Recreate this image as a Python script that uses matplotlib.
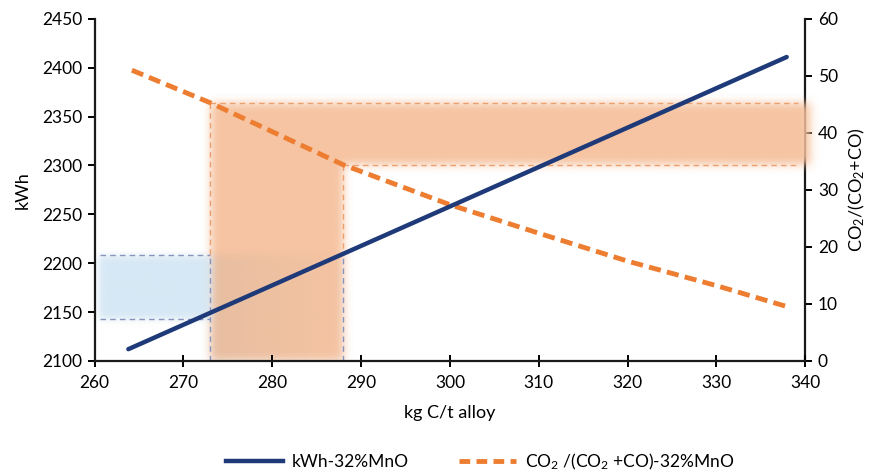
import numpy as np
import matplotlib
matplotlib.use("Agg")
import matplotlib.pyplot as plt
from matplotlib.lines import Line2D

plt.rcParams['font.family'] = ['Lato', 'DejaVu Sans']
plt.rcParams['mathtext.fontset'] = 'custom'
plt.rcParams['mathtext.rm'] = 'Lato'
plt.rcParams['mathtext.default'] = 'regular'

#-----------------
# Data
#-----------------
kg_c = [263.8, 337.9]
kwh = [2112, 2411]

kg_c_co2 = [264.2, 273, 288, 300, 310, 320, 330, 338]
co2_ratio = [51.0, 45.3, 34.4, 27.4, 22.4, 17.5, 13.2, 9.5]

# reference marks: carbon window, matching CO2 ratios and kWh
x_marks = [273, 288]
co2_marks = [45.3, 34.4]
kwh_marks = [2143, 2208]

x_lim = (260, 340)
kwh_lim = (2100, 2450)
co2_lim = (0, 60)

navy = '#1F3A78'
orange = '#ED7D31'

#-----------------
# Soft shaded bands
#-----------------
def blur(img, sigma):
    r = int(3 * sigma)
    k = np.exp(-0.5 * (np.arange(-r, r + 1) / sigma) ** 2)
    k /= k.sum()
    img = np.apply_along_axis(lambda v: np.convolve(v, k, mode='same'), 1, img)
    img = np.apply_along_axis(lambda v: np.convolve(v, k, mode='same'), 0, img)
    return img

gx0, gx1 = 257, 344
nx, ny = 780, 350
gx = np.linspace(gx0, gx1, nx)
gy = np.linspace(0, 1, ny)          # axes fraction, bottom -> top
GX, GY = np.meshgrid(gx, gy)

def kf(k):
    return (k - kwh_lim[0]) / (kwh_lim[1] - kwh_lim[0])

def cf(c):
    return (c - co2_lim[0]) / (co2_lim[1] - co2_lim[0])

def box(x0, x1, y0, y1):
    return ((GX >= x0) & (GX <= x1) & (GY >= y0) & (GY <= y1)).astype(float)

m_orange = np.clip(box(x_marks[0], x_marks[1], -0.1, cf(co2_marks[0]))
                   + box(x_marks[0], 340.6, cf(co2_marks[1]), cf(co2_marks[0])), 0, 1)
m_orange = blur(m_orange, 4.5)
m_blue = blur(box(260.4, x_marks[0], kf(kwh_marks[0]), kf(kwh_marks[1])), 3.5)
m_gray = box(x_marks[0], x_marks[1], -0.1, kf(kwh_marks[1])) * np.clip(1.0 - (GX - x_marks[0]) / 16, 0.2, 1)
m_gray = blur(m_gray, 4.0)

def layer(mask, rgb, amax):
    out = np.zeros(mask.shape + (4,))
    out[..., :3] = np.array(matplotlib.colors.to_rgb(rgb))
    out[..., 3] = np.clip(mask, 0, 1) * amax
    return out

fig = plt.figure(figsize=(8.84, 4.73), dpi=100)
ax = fig.add_axes([0.107, 0.237, 0.804, 0.723])
ax2 = ax.twinx()
ax.set_zorder(ax2.get_zorder() + 1)
ax.patch.set_visible(False)
ax.set_xlim(*x_lim)
ax.set_ylim(*kwh_lim)
ax2.set_ylim(*co2_lim)

ext = (gx0, gx1, 0, 1)
for lay, z in [(layer(m_orange, '#F6C19D', 0.95), 1),
               (layer(m_blue, '#D3E6F4', 0.9), 1.1),
               (layer(m_gray, '#A0A0A0', 0.17), 1.2)]:
    im = ax.imshow(lay, extent=ext, origin='lower', aspect='auto',
                   transform=ax.get_xaxis_transform(), zorder=z,
                   interpolation='bilinear')
    im.set_clip_on(False)

# dashed guide lines (CO2 ones use the right-axis scale)
od = '#EE9F6E'
bd = '#8795BD'
t2 = ax2.transData
dash = dict(lw=1.0, dashes=(4, 3), zorder=2)
ax.plot([x_marks[0], 339.2], [co2_marks[0]] * 2, color=od, transform=t2, **dash)
ax.plot([x_marks[1], 339.2], [co2_marks[1]] * 2, color=od, transform=t2, **dash)
for xm, cm in zip(x_marks, co2_marks):
    ax.plot([xm, xm], [cm, kf(kwh_marks[1]) * co2_lim[1]], color=od, transform=t2, **dash)
    ax.plot([xm, xm], [kwh_lim[0], kwh_marks[1]], color=bd, **dash)
for km in kwh_marks:
    ax.plot([260.6, x_marks[0]], [km, km], color=bd, **dash)

# main series
ax.plot(kg_c_co2, co2_ratio, color=orange, lw=3.5, dashes=(2.5, 1.3),
        transform=t2, zorder=3)
ax.plot(kg_c, kwh, color=navy, lw=3.2, solid_capstyle='round', zorder=4)

#-----------------
# Axes
#-----------------
ax.set_xlim(*x_lim)
ax.set_ylim(*kwh_lim)
ax2.set_ylim(*co2_lim)
ax.set_xticks(np.arange(260, 341, 10))
ax.set_yticks(np.arange(2100, 2451, 50))
ax2.set_yticks(np.arange(0, 61, 10))

for s in ['top', 'right']:
    ax.spines[s].set_visible(False)
for s in ['top', 'left', 'bottom']:
    ax2.spines[s].set_visible(False)
for sp in [ax.spines['left'], ax.spines['bottom'], ax2.spines['right']]:
    sp.set_linewidth(1.6)
    sp.set_color('#1a1a1a')

ax.tick_params(axis='x', direction='inout', length=8, width=1.4, labelsize=12.5, pad=6)
ax.tick_params(axis='y', direction='out', length=5, width=1.4, labelsize=12.5, pad=4)
ax2.tick_params(axis='y', direction='out', length=5, width=1.4, labelsize=12.5, pad=4)

ax.set_xlabel('kg C/t alloy', fontsize=13, labelpad=10)
ax.set_ylabel('kWh', fontsize=13, labelpad=8)
ax2.set_ylabel('CO$_2$/(CO$_2$+CO)', fontsize=13, labelpad=6)

handles = [Line2D([], [], color=navy, lw=3.2),
           Line2D([], [], color=orange, lw=3.5, dashes=(2.2, 1.3))]
labels = ['kWh-32%MnO', 'CO$_2$ /(CO$_2$ +CO)-32%MnO']
fig.legend(handles, labels, loc='lower center', bbox_to_anchor=(0.543, -0.03),
           ncol=2, frameon=False, fontsize=12.5, handlelength=3.3,
           columnspacing=2.9, handletextpad=0.5)

fig.savefig('out.png', dpi=100)
